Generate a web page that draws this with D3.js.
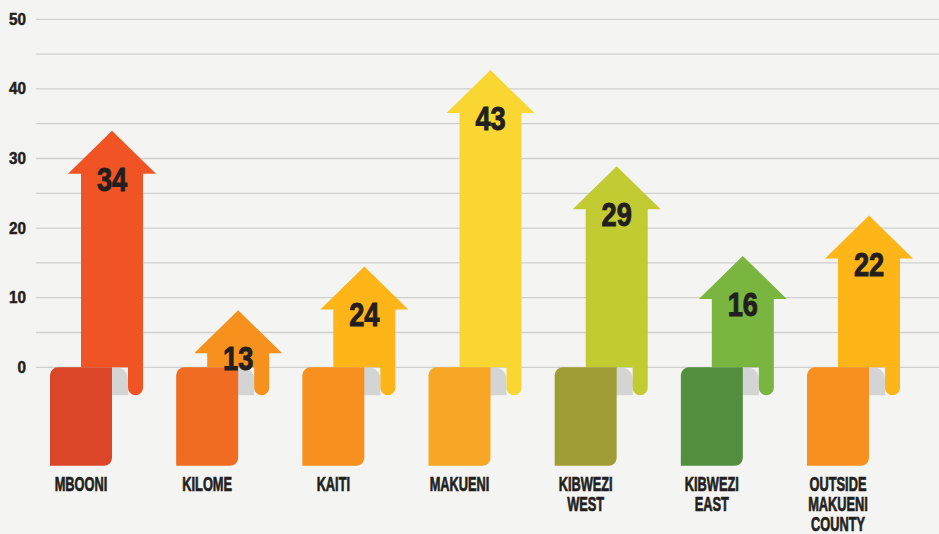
<!DOCTYPE html>
<html>
<head>
<meta charset="utf-8">
<script src="https://cdn.jsdelivr.net/npm/d3@7/dist/d3.min.js"></script>
<style>
  html, body { margin: 0; padding: 0; background: #f4f4f2; }
  svg { display: block; }
  text { font-family: "Liberation Sans", Arial, sans-serif; font-weight: bold; fill: #231f20; stroke: #231f20; paint-order: stroke; }
</style>
</head>
<body>
<svg id="chart" width="939" height="534"></svg>
<script>
// data
const regions = ["MBOONI", "KILOME", "KAITI", "MAKUENI", "KIBWEZI WEST", "KIBWEZI EAST", "OUTSIDE MAKUENI COUNTY"];
const printedValues = [34, 13, 24, 43, 29, 16, 22];
// where the arrow tips actually sit on the axis (two arrows are drawn shorter than their label)
const drawnHeights = [34, 8.2, 14.5, 42.7, 28.9, 16, 21.8];
const labelLines = [["MBOONI"], ["KILOME"], ["KAITI"], ["MAKUENI"], ["KIBWEZI", "WEST"], ["KIBWEZI", "EAST"], ["OUTSIDE", "MAKUENI", "COUNTY"]];
const yTicks = [0, 10, 20, 30, 40, 50];
const gridValues = [0, 5, 10, 15, 20, 25, 30, 35, 40, 45, 50];

const shaftColors = ["#f15424", "#f7911e", "#fdb518", "#f9d631", "#c2cb31", "#7ab540", "#fdb518"];
const panelColors = ["#da4627", "#f06c22", "#f7901e", "#f8a724", "#a09d36", "#528e3e", "#f7901e"];

const svg = d3.select("#chart");
const width = +svg.attr("width");

const x = d3.scalePoint()
    .domain(regions)
    .range([112, 869]);

const y = d3.scaleLinear()
    .domain([0, 50])
    .range([367.3, 19.3]);

const y0 = y(0);

// gridlines
svg.append("g")
    .selectAll("line")
    .data(gridValues)
    .join("line")
    .attr("x1", 36)
    .attr("x2", width)
    .attr("y1", d => y(d))
    .attr("y2", d => y(d))
    .attr("stroke", "#cfcfcd")
    .attr("stroke-width", 1.3);

// tick labels
svg.append("g")
    .selectAll("g")
    .data(yTicks)
    .join("g")
    .attr("transform", d => `translate(26,${y(d) + 5.5}) scale(0.9,1)`)
    .append("text")
    .attr("text-anchor", "end")
    .attr("font-size", 17)
    .attr("stroke-width", 0.5)
    .text(d => d);

const bars = svg.append("g")
    .selectAll("g")
    .data(regions.map((r, i) => ({ region: r, value: printedValues[i], h: drawnHeights[i], lines: labelLines[i], i })))
    .join("g");

// gray back of the curl
bars.append("path")
    .attr("fill", "#d3d4d4")
    .attr("d", d => {
        const cx = x(d.region);
        return `M${cx - 8},${y0} L${cx + 4},${y0} A12,12 0 0 1 ${cx + 16},${y0 + 12} L${cx + 16},${y0 + 28} L${cx - 8},${y0 + 28} Z`;
    });

// arrow
bars.append("path")
    .attr("fill", d => shaftColors[d.i])
    .attr("d", d => {
        const cx = x(d.region);
        const tip = y(d.h);
        const base = tip + 43;
        const bot = y0 + 28;
        return `M${cx - 31},${y0} L${cx - 31},${base} L${cx - 44},${base} L${cx},${tip} L${cx + 44},${base} L${cx + 31},${base}` +
            ` L${cx + 31},${bot - 7.5} A7.5,7.5 0 0 1 ${cx + 16},${bot - 7.5} L${cx + 16},${y0} Z`;
    });

// front panel
bars.append("path")
    .attr("fill", d => panelColors[d.i])
    .attr("d", d => {
        const cx = x(d.region);
        const bot = y0 + 98.5;
        return `M${cx - 62},${y0 + 8} A8,8 0 0 1 ${cx - 54},${y0} L${cx},${y0} L${cx},${bot - 8}` +
            ` A8,8 0 0 1 ${cx - 8},${bot} L${cx - 62},${bot} Z`;
    });

// value labels
bars.append("g")
    .attr("transform", d => `translate(${x(d.region)},${y(d.h) + 60}) scale(0.8,1)`)
    .append("text")
    .attr("text-anchor", "middle")
    .attr("font-size", 34)
    .attr("stroke-width", 1)
    .text(d => d.value);

// category labels
const labels = bars.append("g")
    .attr("transform", d => `translate(${x(d.region) - 31},491) scale(0.64,1)`)
    .append("text")
    .attr("text-anchor", "middle")
    .attr("font-size", 20)
    .attr("stroke-width", 0.7);

labels.selectAll("tspan")
    .data(d => d.lines)
    .join("tspan")
    .attr("x", 0)
    .attr("dy", (l, k) => k === 0 ? 0 : 20)
    .text(l => l);
</script>
</body>
</html>
